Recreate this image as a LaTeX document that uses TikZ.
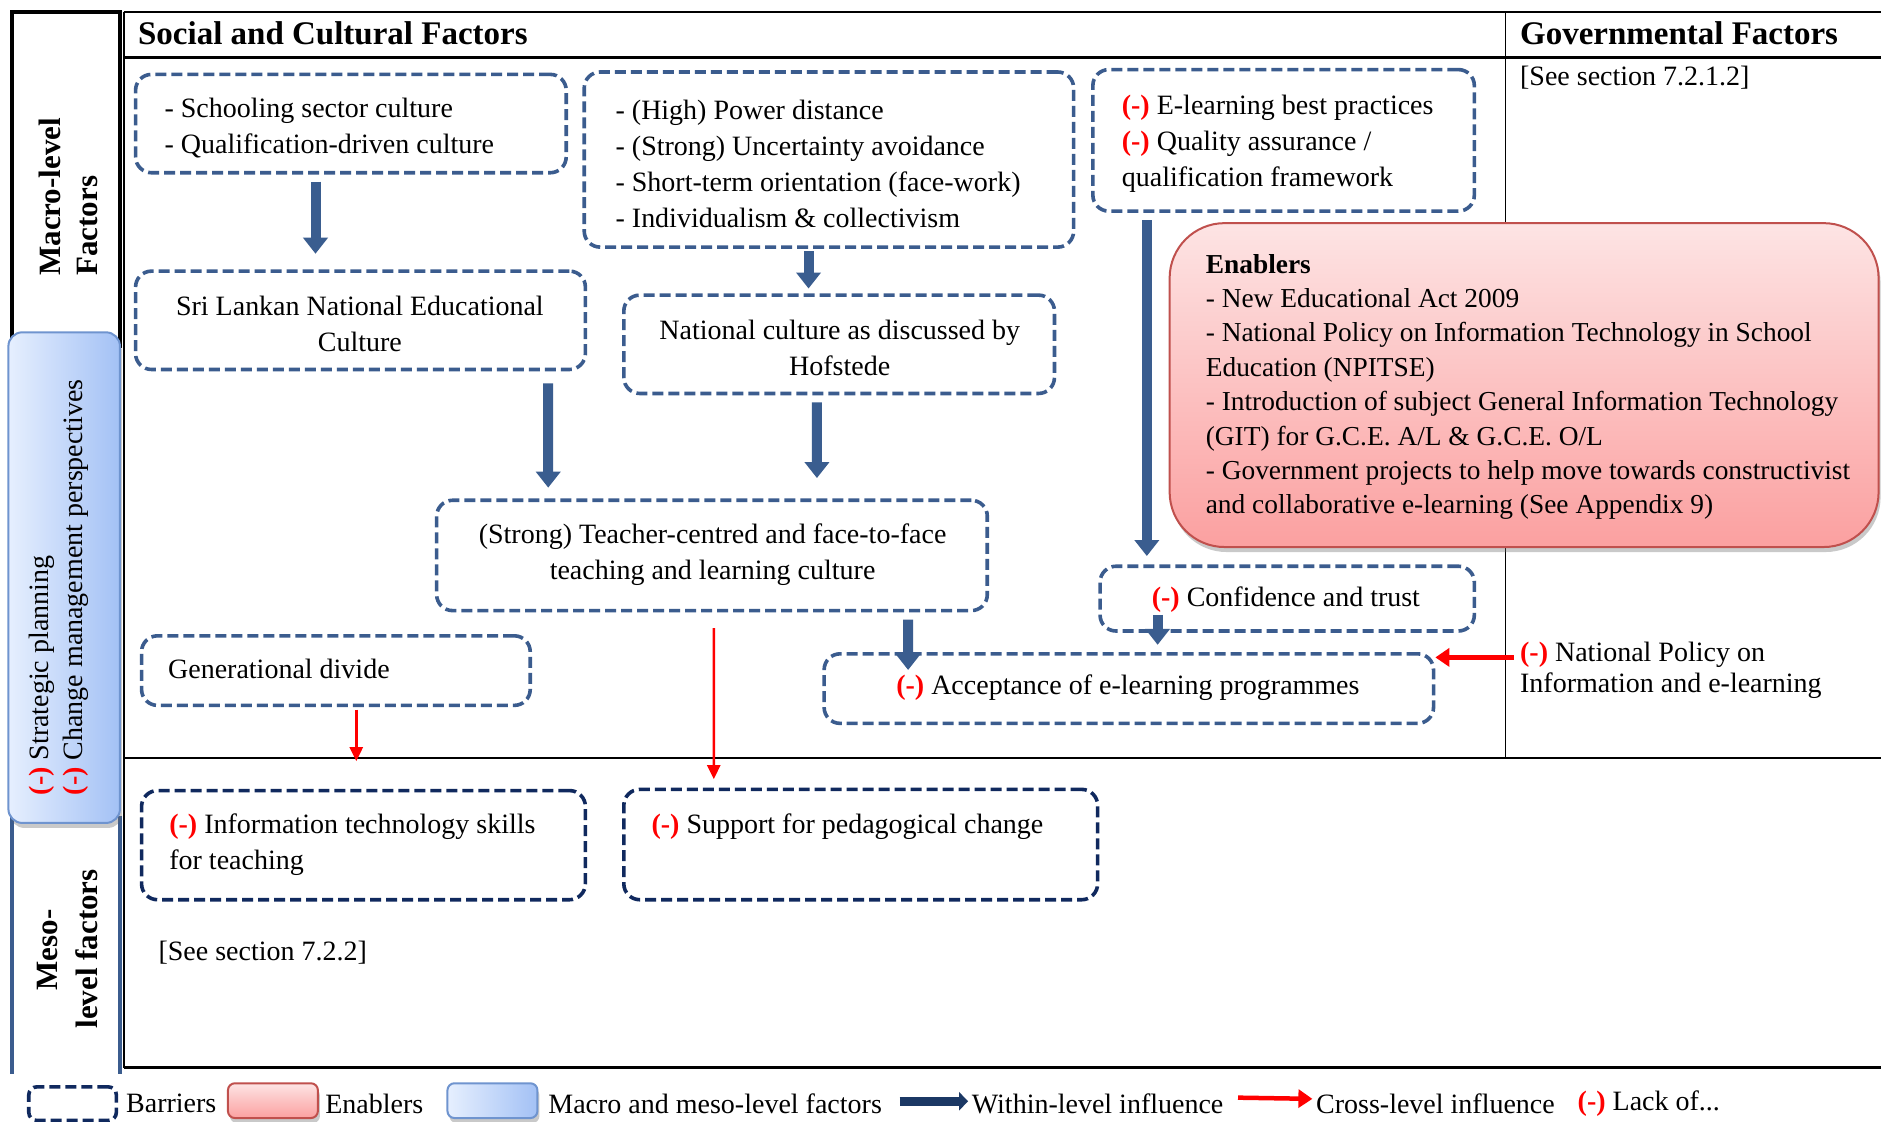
\documentclass[tikz,border=0pt]{standalone}
\usepackage{fontspec}
\setmainfont{Liberation Serif}
\usetikzlibrary{arrows.meta,fit,shadows,calc}

\definecolor{barrierblue}{HTML}{3B5C8E}
\definecolor{mesonavy}{HTML}{10295E}
\definecolor{flowblue}{HTML}{3A5D8F}
\definecolor{lackred}{HTML}{FF0000}
\definecolor{enabtop}{HTML}{FDE4E4}
\definecolor{enabbot}{HTML}{FBA0A0}
\definecolor{enabline}{HTML}{C0504D}
\definecolor{macroleft}{HTML}{E6EFFE}
\definecolor{macroright}{HTML}{A3C1F5}
\definecolor{macroline}{HTML}{6F94CF}
\definecolor{legendnavy}{HTML}{1B3864}

\newcommand{\lackmark}{{\color{lackred}\bfseries(-)}}

\tikzset{
  barrier/.style={draw=barrierblue, line width=3.6pt, dash pattern=on 11pt off 5pt,
    rounded corners=16pt, inner sep=0pt},
  mesobox/.style={barrier, draw=mesonavy},
  txt/.style={inner sep=0pt, align=left},
  ctxt/.style={inner sep=0pt, align=center},
  within/.style={draw=flowblue, line width=10pt, -{Triangle[width=24pt,length=16pt]}},
  cross/.style={draw=lackred, line width=2.5pt, -{Triangle[width=13pt,length=14pt]}},
  crossthick/.style={draw=lackred, line width=4.5pt, -{Triangle[width=18pt,length=14pt]}},
  enabler/.style={draw=enabline, line width=2pt, top color=enabtop, bottom color=enabbot,
    drop shadow={shadow xshift=2pt, shadow yshift=-5pt, opacity=0.35, fill=black!60}},
  macrobox/.style={draw=macroline, line width=2pt, left color=macroleft, right color=macroright,
    drop shadow={shadow xshift=2pt, shadow yshift=-5pt, opacity=0.35, fill=black!60}},
  heading/.style={inner sep=0pt, anchor=west, font=\fontsize{33}{40}\selectfont\bfseries},
  sidehead/.style={inner sep=0pt, rotate=90, font=\fontsize{31}{37}\selectfont\bfseries},
}

\begin{document}
\begin{tikzpicture}[x=1.2pt, y=-1.2pt, font=\fontsize{28}{36}\selectfont]
\useasboundingbox (0,0) rectangle (1568,935);
\fill[white] (0,0) rectangle (1568,935);

% ---- table frame ----
\draw[line width=2.5pt] (103,10) -- (1568,10);
\draw[line width=2.5pt] (103,48) -- (1568,48);
\draw[line width=1.8pt] (1255,10) -- (1255,632);
\draw[line width=2pt] (103,10) -- (103,890);
\draw[line width=2pt] (103,632) -- (1568,632);
\draw[line width=2.5pt] (103,890) -- (1568,890);

% ---- left level column ----
\draw[line width=4pt] (10,290) -- (10,10) -- (100,10) -- (100,290);
\draw[line width=4pt, barrierblue] (10,680) -- (10,895);
\draw[line width=4pt, barrierblue] (100,680) -- (100,895);

\node[sidehead, anchor=west] (macroA) at (42,230) {Macro-level};
\node[sidehead, anchor=west] (macroB) at (73,230) {Factors};
\node[sidehead] (mesoA) at (40,792) {Meso-};
\node[sidehead] (mesoB) at (72,791) {level factors};

\node[macrobox, rounded corners=14pt, inner sep=0pt, fit={(7,277) (100,686)}] (macro) {};
\node[txt, rotate=90, anchor=west] (stratplan) at (35,663) {\lackmark{} Strategic planning};
\node[txt, rotate=90, anchor=west] (changemgmt) at (63,663) {\lackmark{} Change management perspectives};

% ---- headings ----
\node[heading] (social) at (115,28) {Social and Cultural Factors};
\node[heading] (govern) at (1267,28) {Governmental Factors};
\node[txt, anchor=west] (seegov) at (1267,64.5) {[See section 7.2.1.2]};

% ---- barrier boxes (macro level) ----
\node[barrier, fit={(113,62) (472,144)}] (school) {};
\node[txt, anchor=west] (schooltxt) at (137,107) {- Schooling sector culture\\- Qualification-driven culture};

\node[barrier, fit={(487,60) (895,206)}] (hof) {};
\node[txt, anchor=west] (hoftxt) at (513,137) {- (High) Power distance\\- (Strong) Uncertainty avoidance\\- Short-term orientation (face-work)\\- Individualism \& collectivism};

\node[barrier, fit={(911,58) (1229,176)}] (elearn) {};
\node[txt, anchor=west] (elearntxt) at (935,120) {\lackmark{} E-learning best practices\\\lackmark{} Quality assurance /\\qualification framework};

\node[barrier, fit={(113,226) (488,308)}] (srilanka) {};
\node[ctxt] (srilankatxt) at (300,270) {Sri Lankan National Educational\\Culture};

\node[barrier, fit={(520,246) (879,328)}] (natcult) {};
\node[ctxt] (natculttxt) at (700,290) {National culture as discussed by\\Hofstede};

\node[barrier, fit={(364,417) (823,509)}] (teacher) {};
\node[ctxt] (teachertxt) at (594,462) {(Strong) Teacher-centred and face-to-face\\teaching and learning culture};

\node[barrier, fit={(917,472) (1229,526)}] (conf) {};
\node[txt, anchor=west] (conftxt) at (960,500) {\lackmark{} Confidence and trust};

\node[barrier, fit={(118,530) (442,588)}] (gen) {};
\node[txt, anchor=west] (gentxt) at (140,558) {Generational divide};

\node[barrier, fit={(687,545) (1195,603)}] (accept) {};
\node[txt, anchor=west] (accepttxt) at (747,573.5) {\lackmark{} Acceptance of e-learning programmes};

% ---- barrier boxes (meso level) ----
\node[mesobox, fit={(118,659) (488,750)}] (itskills) {};
\node[txt, anchor=west] (itskillstxt) at (141,704) {\lackmark{} Information technology skills\\for teaching};

\node[mesobox, fit={(520,658) (915,750)}] (support) {};
\node[txt, anchor=west] (supporttxt) at (543,689.5) {\lackmark{} Support for pedagogical change};

\node[txt, anchor=west] (seemeso) at (132,794) {[See section 7.2.2]};

% ---- enablers ----
\node[enabler, rounded corners=55pt, inner sep=0pt, fit={(975,186) (1566,456)}] (enablers) {};
\node[txt, anchor=west, font=\fontsize{27.4}{34.4}\selectfont] (enablerstxt) at (1005,322.5)
  {\textbf{Enablers}\\- New Educational Act 2009\\- National Policy on Information Technology in School\\Education (NPITSE)\\- Introduction of subject General Information Technology\\(GIT) for G.C.E. A/L \& G.C.E. O/L\\- Government projects to help move towards constructivist\\and collaborative e-learning (See Appendix 9)};

% ---- governmental policy ----
\node[txt, anchor=west, font=\fontsize{28}{31}\selectfont] (natpol) at (1267,559) {\lackmark{} National Policy on\\Information and e-learning};

% ---- within-level influences ----
\draw[within] ($(school.south)+(-29.5,6)$) -- ($(srilanka.north)+(-37.5,-13)$);
\draw[within] ($(hof.south)+(-17,2)$) -- ($(natcult.north)+(-25.5,-4)$);
\draw[within] ($(srilanka.south)+(156.5,10)$) -- ($(teacher.north)+(-136.5,-9)$);
\draw[within] ($(natcult.south)+(-18.5,6)$) -- ($(teacher.north)+(87.5,-17)$);
\draw[within] ($(elearn.south)+(-114,6)$) -- ($(conf.north)+(-117,-7)$);
\draw[within] ($(teacher.south)+(163.5,6)$) -- ($(accept.north)+(-184,15)$);
\draw[within] ($(conf.south)+(-108,-15)$) -- ($(accept.north)+(24,-6)$);

% ---- cross-level influences ----
\draw[cross] ($(gen.south)+(17,2)$) -- ($(itskills.north)+(-6,-23)$);
\draw[cross] ($(teacher.south)+(1.5,13)$) -- ($(support.north)+(-122.5,-7)$);
\coordinate (npfoot) at (1262,548);
\draw[crossthick] (npfoot) -- (npfoot -| accept.east);

% ---- legend ----
\node[barrier, draw=mesonavy, rounded corners=8pt, fit={(24,906) (97,934)}] (legbarrier) {};
\node[txt, anchor=west] (legbarriertxt) at (105,920) {Barriers};
\node[enabler, rounded corners=7pt, inner sep=0pt, fit={(190,903) (265,932)}] (legenabler) {};
\node[txt, anchor=west] (legenablertxt) at (271,920) {Enablers};
\node[macrobox, rounded corners=7pt, inner sep=0pt, fit={(373,903) (448,932)}] (legmacro) {};
\node[txt, anchor=west] (legmacrotxt) at (457,920) {Macro and meso-level factors};
\coordinate (lwA) at (750,918);
\coordinate (lwB) at (807,918);
\draw[draw=legendnavy, line width=9pt, -{Triangle[width=18pt,length=9pt]}] (lwA) -- (lwB);
\node[txt, anchor=west] (legwithintxt) at (810,920) {Within-level influence};
\coordinate (lcA) at (1032,915);
\coordinate (lcB) at (1094,916);
\draw[crossthick] (lcA) -- (lcB);
\node[txt, anchor=west] (legcrosstxt) at (1097,920) {Cross-level influence};
\node[txt, anchor=west] (leglacktxt) at (1315,920) {\lackmark{} Lack of...};
\end{tikzpicture}
\end{document}
